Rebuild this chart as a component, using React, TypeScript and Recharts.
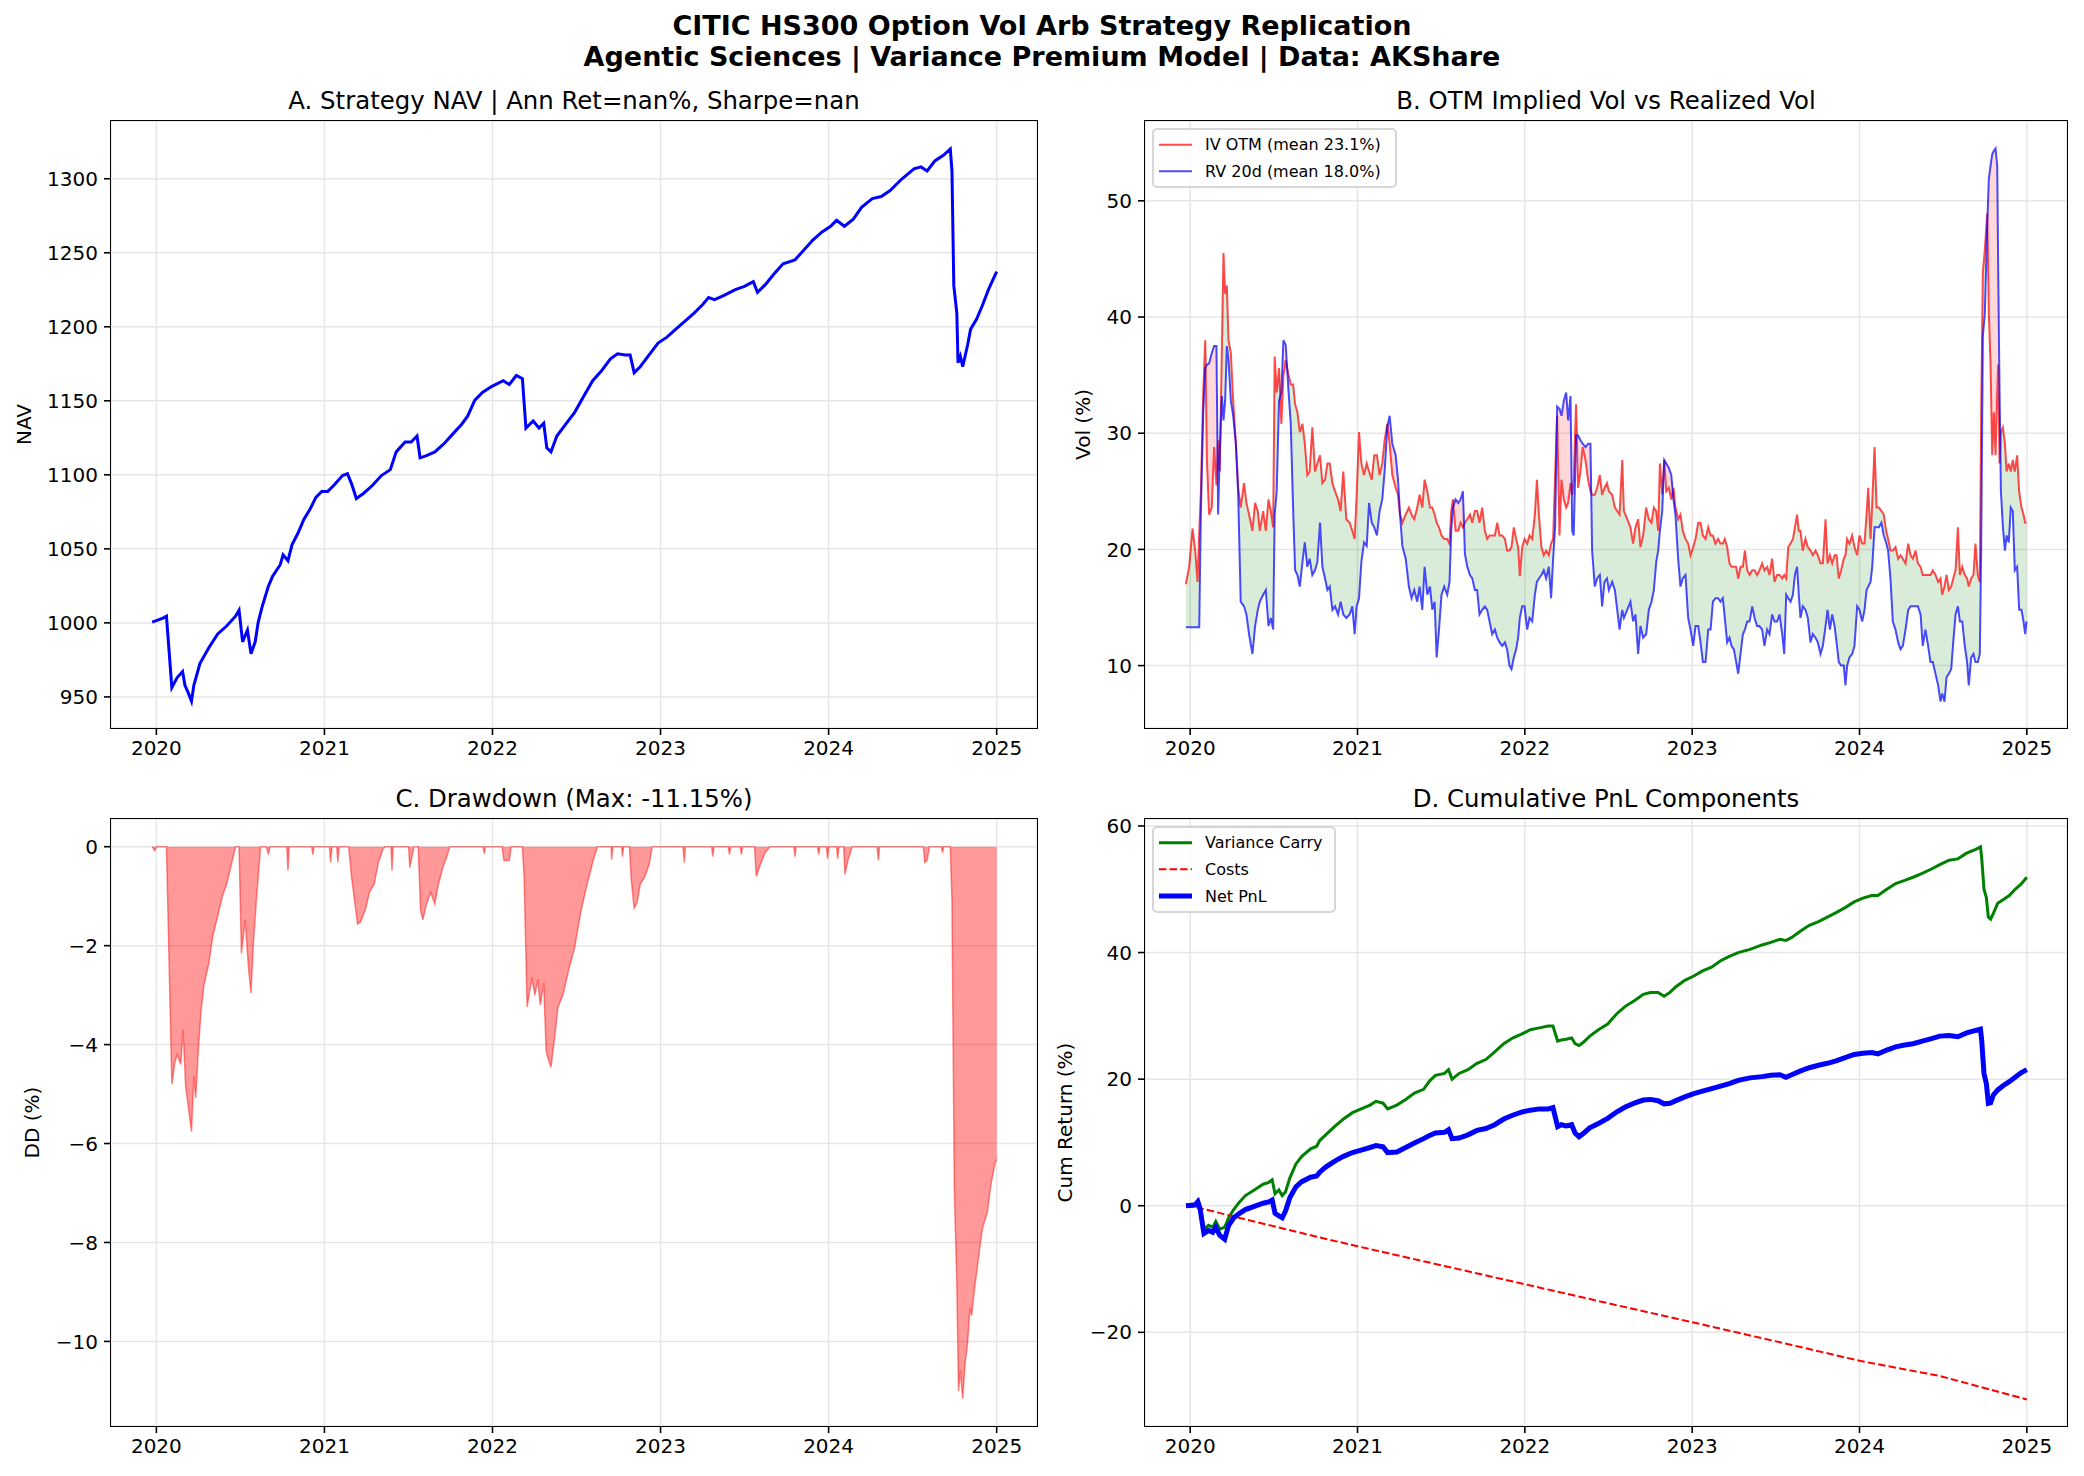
import React from 'react';
import { ComposedChart, Line, Area, XAxis, YAxis, CartesianGrid } from 'recharts';

const FONT = "'DejaVu Sans', sans-serif";
const X_DOMAIN: [number, number] = [2019.73, 2025.24];
const YEAR_TICKS = [2020, 2021, 2022, 2023, 2024, 2025];

// ---------- Panel A: strategy NAV ----------
const navDates = [2019.975, 2020.039, 2020.060, 2020.092, 2020.124, 2020.156, 2020.170, 2020.191, 2020.209, 2020.223, 2020.259, 2020.312, 2020.365, 2020.418, 2020.471, 2020.492, 2020.513, 2020.542, 2020.563, 2020.588, 2020.606, 2020.630, 2020.666, 2020.691, 2020.737, 2020.754, 2020.783, 2020.807, 2020.843, 2020.878, 2020.914, 2020.949, 2020.984, 2021.020, 2021.055, 2021.108, 2021.137, 2021.161, 2021.190, 2021.232, 2021.285, 2021.339, 2021.392, 2021.427, 2021.480, 2021.516, 2021.551, 2021.569, 2021.604, 2021.657, 2021.710, 2021.763, 2021.817, 2021.852, 2021.894, 2021.940, 2021.994, 2022.064, 2022.100, 2022.142, 2022.178, 2022.199, 2022.242, 2022.277, 2022.305, 2022.323, 2022.348, 2022.383, 2022.436, 2022.489, 2022.542, 2022.596, 2022.649, 2022.702, 2022.744, 2022.790, 2022.819, 2022.843, 2022.879, 2022.932, 2022.985, 2023.038, 2023.091, 2023.144, 2023.198, 2023.251, 2023.286, 2023.321, 2023.375, 2023.445, 2023.499, 2023.552, 2023.577, 2023.622, 2023.676, 2023.729, 2023.800, 2023.853, 2023.906, 2023.959, 2024.012, 2024.047, 2024.094, 2024.147, 2024.196, 2024.260, 2024.313, 2024.366, 2024.437, 2024.508, 2024.550, 2024.586, 2024.632, 2024.685, 2024.724, 2024.734, 2024.745, 2024.763, 2024.770, 2024.784, 2024.798, 2024.827, 2024.845, 2024.880, 2024.915, 2024.951, 2025.000];
const navValues = [1000.5, 1003.2, 1004.5, 956.4, 963.1, 967.1, 957.8, 952.4, 947.1, 957.8, 972.5, 983.2, 992.5, 997.9, 1004.5, 1008.6, 987.2, 995.2, 979.1, 987.2, 1000.5, 1011.2, 1024.6, 1031.3, 1039.3, 1046.0, 1042.0, 1052.7, 1060.7, 1070.1, 1076.7, 1084.8, 1088.8, 1088.8, 1092.8, 1099.5, 1100.8, 1094.1, 1084.0, 1087.4, 1092.8, 1099.5, 1103.5, 1115.5, 1122.2, 1122.2, 1126.2, 1111.5, 1112.8, 1115.5, 1120.9, 1127.5, 1134.2, 1139.6, 1150.3, 1155.6, 1159.6, 1163.6, 1161.0, 1167.1, 1165.0, 1131.6, 1136.4, 1131.6, 1134.8, 1118.2, 1115.5, 1126.2, 1134.2, 1142.2, 1152.9, 1163.6, 1170.3, 1178.3, 1181.8, 1181.0, 1181.0, 1169.0, 1173.0, 1181.0, 1189.0, 1193.0, 1198.4, 1203.7, 1209.1, 1215.0, 1219.8, 1218.4, 1221.1, 1225.1, 1227.3, 1230.5, 1223.3, 1228.3, 1235.8, 1242.5, 1245.2, 1251.9, 1258.6, 1263.9, 1267.9, 1271.9, 1267.9, 1272.7, 1280.7, 1286.6, 1288.0, 1292.0, 1300.0, 1306.7, 1308.0, 1305.3, 1312.0, 1316.0, 1320.1, 1305.3, 1227.8, 1209.1, 1175.7, 1180.2, 1173.0, 1187.7, 1198.4, 1205.1, 1214.4, 1225.1, 1237.2];
const navTicks = [950, 1000, 1050, 1100, 1150, 1200, 1250, 1300];

// ---------- Panel B: implied vs realized vol ----------
const volDates = [2019.974, 2019.994, 2020.014, 2020.030, 2020.044, 2020.054, 2020.064, 2020.078, 2020.090, 2020.100, 2020.113, 2020.129, 2020.143, 2020.157, 2020.167, 2020.177, 2020.189, 2020.199, 2020.209, 2020.219, 2020.229, 2020.243, 2020.257, 2020.273, 2020.287, 2020.302, 2020.322, 2020.336, 2020.352, 2020.372, 2020.388, 2020.404, 2020.416, 2020.436, 2020.452, 2020.468, 2020.482, 2020.496, 2020.505, 2020.517, 2020.531, 2020.545, 2020.557, 2020.571, 2020.585, 2020.601, 2020.615, 2020.627, 2020.641, 2020.655, 2020.671, 2020.685, 2020.700, 2020.714, 2020.730, 2020.746, 2020.760, 2020.776, 2020.790, 2020.806, 2020.820, 2020.834, 2020.850, 2020.866, 2020.884, 2020.899, 2020.915, 2020.933, 2020.953, 2020.969, 2020.983, 2020.995, 2021.009, 2021.023, 2021.039, 2021.055, 2021.069, 2021.085, 2021.100, 2021.116, 2021.132, 2021.148, 2021.162, 2021.178, 2021.192, 2021.208, 2021.228, 2021.242, 2021.254, 2021.268, 2021.288, 2021.307, 2021.323, 2021.339, 2021.357, 2021.371, 2021.387, 2021.401, 2021.417, 2021.433, 2021.447, 2021.461, 2021.473, 2021.487, 2021.502, 2021.518, 2021.536, 2021.550, 2021.560, 2021.570, 2021.586, 2021.602, 2021.616, 2021.630, 2021.642, 2021.656, 2021.672, 2021.686, 2021.701, 2021.715, 2021.729, 2021.745, 2021.761, 2021.775, 2021.789, 2021.805, 2021.821, 2021.835, 2021.849, 2021.865, 2021.881, 2021.894, 2021.908, 2021.920, 2021.934, 2021.948, 2021.960, 2021.970, 2021.984, 2021.998, 2022.014, 2022.028, 2022.044, 2022.060, 2022.072, 2022.084, 2022.099, 2022.113, 2022.127, 2022.143, 2022.157, 2022.169, 2022.181, 2022.193, 2022.207, 2022.219, 2022.233, 2022.247, 2022.259, 2022.273, 2022.283, 2022.292, 2022.306, 2022.318, 2022.332, 2022.346, 2022.362, 2022.378, 2022.392, 2022.402, 2022.418, 2022.432, 2022.448, 2022.462, 2022.476, 2022.491, 2022.502, 2022.522, 2022.538, 2022.552, 2022.566, 2022.582, 2022.592, 2022.612, 2022.631, 2022.647, 2022.661, 2022.677, 2022.691, 2022.707, 2022.725, 2022.741, 2022.757, 2022.771, 2022.785, 2022.797, 2022.807, 2022.821, 2022.833, 2022.845, 2022.861, 2022.875, 2022.888, 2022.900, 2022.916, 2022.930, 2022.944, 2022.960, 2022.976, 2022.990, 2023.006, 2023.020, 2023.036, 2023.050, 2023.064, 2023.080, 2023.096, 2023.110, 2023.124, 2023.139, 2023.155, 2023.169, 2023.183, 2023.195, 2023.209, 2023.223, 2023.235, 2023.249, 2023.263, 2023.275, 2023.289, 2023.303, 2023.315, 2023.329, 2023.343, 2023.359, 2023.373, 2023.388, 2023.402, 2023.418, 2023.432, 2023.448, 2023.462, 2023.478, 2023.492, 2023.508, 2023.522, 2023.538, 2023.550, 2023.562, 2023.574, 2023.588, 2023.602, 2023.614, 2023.627, 2023.637, 2023.647, 2023.661, 2023.677, 2023.691, 2023.707, 2023.721, 2023.737, 2023.751, 2023.767, 2023.781, 2023.797, 2023.809, 2023.823, 2023.837, 2023.851, 2023.863, 2023.876, 2023.890, 2023.906, 2023.916, 2023.926, 2023.940, 2023.956, 2023.970, 2023.986, 2024.000, 2024.016, 2024.030, 2024.042, 2024.052, 2024.066, 2024.076, 2024.090, 2024.102, 2024.116, 2024.131, 2024.145, 2024.159, 2024.171, 2024.185, 2024.199, 2024.215, 2024.231, 2024.245, 2024.259, 2024.275, 2024.291, 2024.305, 2024.319, 2024.335, 2024.349, 2024.365, 2024.378, 2024.394, 2024.410, 2024.424, 2024.438, 2024.454, 2024.470, 2024.484, 2024.494, 2024.508, 2024.520, 2024.534, 2024.548, 2024.560, 2024.574, 2024.588, 2024.600, 2024.614, 2024.629, 2024.643, 2024.653, 2024.667, 2024.681, 2024.693, 2024.707, 2024.719, 2024.727, 2024.737, 2024.749, 2024.763, 2024.773, 2024.783, 2024.793, 2024.803, 2024.813, 2024.823, 2024.829, 2024.837, 2024.845, 2024.857, 2024.869, 2024.879, 2024.892, 2024.904, 2024.916, 2024.928, 2024.942, 2024.954, 2024.968, 2024.980, 2024.990, 2024.998];
const ivValues = [17.0, 18.5, 21.8, 19.9, 17.2, 21.3, 25.0, 33.5, 38.0, 27.7, 23.0, 23.6, 28.8, 25.5, 29.4, 26.7, 36.9, 45.5, 42.0, 42.7, 38.0, 36.9, 32.8, 29.1, 25.3, 23.6, 25.7, 24.0, 23.0, 21.6, 24.0, 23.3, 21.6, 23.3, 21.6, 24.3, 23.3, 21.9, 36.6, 33.5, 35.6, 30.8, 34.9, 36.3, 35.2, 34.2, 34.2, 32.5, 31.8, 30.1, 30.8, 29.1, 26.4, 26.7, 30.5, 26.7, 27.4, 28.1, 25.7, 26.0, 27.4, 27.4, 25.7, 25.0, 24.3, 23.3, 26.7, 22.6, 22.3, 21.6, 20.9, 24.7, 30.1, 27.4, 26.4, 27.4, 26.7, 26.0, 28.1, 28.1, 26.4, 27.4, 29.4, 30.8, 29.1, 26.4, 25.3, 24.7, 23.0, 22.3, 23.0, 23.6, 23.0, 22.6, 23.6, 24.7, 23.6, 26.0, 25.0, 23.6, 23.6, 23.0, 22.3, 21.9, 21.2, 20.9, 20.9, 20.5, 23.3, 24.3, 21.6, 21.6, 22.3, 21.9, 22.3, 22.6, 23.0, 22.3, 23.3, 23.3, 22.3, 23.6, 21.6, 20.9, 21.2, 21.2, 21.2, 22.3, 21.2, 21.2, 20.9, 19.9, 19.9, 20.2, 21.9, 20.9, 20.2, 17.7, 20.2, 20.9, 20.5, 21.2, 20.9, 23.0, 26.0, 23.0, 20.2, 19.5, 19.9, 19.5, 20.5, 20.9, 26.4, 31.5, 21.2, 26.0, 24.3, 23.6, 24.0, 25.7, 24.7, 26.0, 32.5, 25.3, 26.7, 28.8, 27.7, 26.0, 25.0, 24.7, 24.7, 25.3, 26.4, 24.7, 25.3, 25.7, 25.0, 24.7, 23.6, 23.3, 23.0, 27.7, 23.3, 22.6, 21.9, 20.5, 21.9, 22.6, 20.2, 21.2, 23.6, 22.6, 22.3, 23.6, 23.3, 21.6, 27.4, 24.7, 27.7, 25.0, 25.3, 24.3, 25.3, 23.6, 22.6, 23.0, 21.6, 20.9, 20.5, 19.5, 20.2, 20.9, 22.3, 22.3, 21.2, 20.9, 21.9, 21.2, 21.2, 20.5, 20.9, 20.5, 20.5, 20.9, 20.2, 18.8, 18.5, 18.5, 18.5, 17.5, 18.5, 18.5, 19.9, 18.2, 17.8, 18.2, 18.2, 17.8, 18.2, 18.8, 18.2, 18.5, 17.8, 19.2, 17.2, 17.8, 17.8, 17.5, 17.8, 17.5, 20.2, 20.5, 20.9, 21.9, 23.0, 21.6, 21.6, 19.9, 20.9, 20.2, 19.9, 19.5, 19.9, 19.5, 18.8, 18.8, 22.6, 18.8, 19.5, 18.8, 19.5, 19.5, 17.5, 18.2, 19.2, 19.5, 20.9, 20.5, 21.2, 20.2, 19.5, 21.2, 20.5, 20.5, 23.0, 25.3, 20.9, 24.0, 28.8, 23.6, 23.6, 23.3, 23.0, 21.6, 20.9, 19.9, 19.9, 20.2, 19.2, 19.5, 19.2, 18.8, 20.5, 19.5, 19.2, 19.9, 18.8, 18.5, 17.8, 17.8, 17.8, 17.8, 18.2, 17.8, 17.2, 17.5, 16.1, 16.8, 17.8, 16.5, 16.8, 17.5, 18.2, 21.9, 17.8, 18.5, 17.8, 17.5, 16.8, 17.5, 17.8, 20.5, 17.8, 17.2, 31.5, 43.8, 45.8, 48.9, 40.3, 35.9, 28.1, 31.8, 28.1, 33.5, 35.9, 27.4, 30.1, 30.5, 29.1, 26.7, 27.4, 26.7, 27.7, 26.7, 28.1, 25.0, 23.6, 23.0, 22.3, 22.3];
const rvValues = [13.3, 13.3, 13.3, 13.3, 13.3, 13.3, 23.3, 31.8, 35.6, 35.9, 36.0, 36.9, 37.5, 37.5, 23.0, 28.4, 33.2, 31.1, 32.8, 37.5, 36.3, 32.8, 31.5, 29.1, 24.7, 15.5, 15.1, 14.4, 12.7, 11.0, 13.4, 14.8, 15.5, 16.1, 16.5, 13.4, 14.1, 13.1, 23.0, 25.0, 32.8, 33.5, 38.0, 37.6, 34.2, 30.8, 23.6, 18.2, 17.8, 16.8, 18.9, 20.6, 18.5, 19.2, 17.8, 18.2, 18.9, 22.3, 18.5, 17.5, 16.5, 16.8, 14.8, 15.1, 14.4, 15.5, 14.4, 14.1, 14.4, 15.1, 12.7, 15.1, 15.8, 18.9, 20.6, 20.3, 24.0, 22.3, 21.9, 21.2, 23.3, 24.3, 26.7, 30.5, 31.5, 29.1, 28.1, 26.0, 23.0, 20.3, 19.2, 16.8, 15.8, 16.5, 15.5, 16.8, 14.8, 18.5, 16.1, 16.8, 14.8, 15.5, 10.7, 13.1, 16.1, 16.8, 16.1, 17.2, 21.6, 23.6, 24.3, 24.0, 24.3, 25.0, 19.6, 18.5, 17.8, 17.5, 16.5, 16.5, 14.4, 14.8, 15.1, 14.8, 13.8, 12.7, 13.1, 12.4, 12.0, 11.7, 12.0, 11.4, 10.0, 9.7, 10.7, 11.4, 12.4, 14.1, 15.1, 15.1, 13.1, 14.1, 13.8, 16.1, 17.2, 17.5, 17.8, 18.2, 17.5, 18.5, 15.8, 19.2, 21.9, 32.3, 32.1, 31.5, 32.8, 33.5, 31.1, 33.2, 21.6, 21.2, 29.8, 29.8, 29.4, 29.1, 28.8, 29.1, 29.1, 19.9, 16.8, 17.5, 17.8, 15.1, 17.2, 17.5, 16.5, 17.2, 16.5, 14.8, 13.1, 14.8, 14.1, 14.8, 15.5, 13.8, 14.4, 11.0, 13.4, 12.4, 12.7, 14.8, 15.5, 16.5, 18.9, 19.9, 21.6, 23.3, 27.7, 27.4, 27.0, 26.4, 24.3, 23.0, 19.2, 16.8, 17.5, 17.8, 14.1, 13.1, 11.7, 13.4, 13.4, 12.0, 10.3, 10.3, 13.1, 13.1, 15.5, 15.8, 15.8, 15.5, 15.8, 14.1, 12.0, 12.4, 11.7, 11.4, 10.3, 9.3, 11.0, 12.7, 13.1, 13.8, 13.8, 15.1, 14.1, 13.4, 13.4, 13.1, 11.7, 13.1, 12.7, 14.4, 13.8, 13.8, 14.4, 12.7, 11.0, 16.1, 15.8, 15.5, 16.1, 17.8, 18.5, 16.1, 14.1, 15.1, 14.8, 14.1, 12.0, 12.7, 12.4, 12.0, 11.0, 11.7, 13.4, 14.8, 13.1, 14.4, 13.4, 12.0, 10.3, 10.0, 10.0, 8.3, 10.0, 10.7, 11.0, 11.7, 15.1, 14.8, 13.8, 14.8, 16.5, 16.8, 17.2, 18.5, 21.9, 21.9, 21.9, 22.3, 21.2, 20.6, 19.9, 17.5, 13.8, 13.1, 12.0, 11.4, 11.7, 13.1, 14.8, 15.1, 15.1, 15.1, 15.1, 14.4, 11.7, 13.1, 11.7, 10.3, 10.3, 9.3, 8.3, 6.9, 7.6, 6.9, 9.0, 9.3, 9.7, 12.0, 14.4, 15.1, 13.8, 13.8, 11.7, 10.3, 8.3, 10.7, 11.0, 10.3, 10.3, 11.0, 19.9, 38.3, 40.3, 47.9, 51.9, 53.0, 54.0, 54.3, 54.5, 53.0, 43.8, 33.5, 25.0, 21.9, 19.9, 21.2, 20.6, 23.6, 23.3, 18.2, 18.5, 14.8, 14.8, 13.8, 12.7, 13.8];
const volTicks = [10, 20, 30, 40, 50];

// ---------- Panel C: drawdown ----------
const ddDates = [2019.975, 2019.989, 2020.004, 2020.060, 2020.092, 2020.110, 2020.124, 2020.145, 2020.159, 2020.174, 2020.191, 2020.209, 2020.223, 2020.234, 2020.251, 2020.266, 2020.283, 2020.312, 2020.336, 2020.365, 2020.393, 2020.418, 2020.446, 2020.471, 2020.492, 2020.506, 2020.528, 2020.549, 2020.563, 2020.577, 2020.595, 2020.620, 2020.655, 2020.666, 2020.677, 2020.776, 2020.783, 2020.790, 2020.924, 2020.931, 2020.938, 2021.030, 2021.037, 2021.045, 2021.073, 2021.080, 2021.087, 2021.144, 2021.161, 2021.179, 2021.197, 2021.215, 2021.243, 2021.268, 2021.296, 2021.321, 2021.349, 2021.363, 2021.396, 2021.402, 2021.409, 2021.501, 2021.508, 2021.533, 2021.558, 2021.572, 2021.586, 2021.604, 2021.632, 2021.657, 2021.675, 2021.703, 2021.728, 2021.746, 2021.944, 2021.951, 2021.958, 2022.057, 2022.068, 2022.100, 2022.111, 2022.178, 2022.188, 2022.206, 2022.234, 2022.252, 2022.270, 2022.284, 2022.305, 2022.319, 2022.334, 2022.348, 2022.369, 2022.390, 2022.419, 2022.454, 2022.489, 2022.525, 2022.560, 2022.596, 2022.624, 2022.706, 2022.709, 2022.716, 2022.769, 2022.773, 2022.780, 2022.815, 2022.826, 2022.843, 2022.861, 2022.879, 2022.907, 2022.932, 2022.950, 2023.134, 2023.141, 2023.148, 2023.304, 2023.311, 2023.318, 2023.403, 2023.410, 2023.417, 2023.474, 2023.481, 2023.488, 2023.559, 2023.570, 2023.594, 2023.622, 2023.651, 2023.793, 2023.800, 2023.807, 2023.934, 2023.941, 2023.948, 2023.987, 2023.994, 2024.001, 2024.047, 2024.054, 2024.061, 2024.090, 2024.097, 2024.115, 2024.140, 2024.289, 2024.296, 2024.303, 2024.564, 2024.572, 2024.586, 2024.600, 2024.671, 2024.678, 2024.685, 2024.724, 2024.734, 2024.748, 2024.763, 2024.773, 2024.784, 2024.798, 2024.812, 2024.827, 2024.841, 2024.851, 2024.869, 2024.887, 2024.915, 2024.944, 2024.965, 2024.990, 2025.000];
const ddValues = [0, -0.08, 0, 0, -4.80, -4.36, -4.20, -4.40, -3.70, -4.84, -5.28, -5.76, -4.64, -5.08, -4.04, -3.32, -2.80, -2.36, -1.80, -1.40, -1.00, -0.76, -0.36, 0, 0, -2.16, -1.48, -2.48, -2.96, -1.96, -1.08, 0, 0, -0.16, 0, 0, -0.48, 0, 0, -0.16, 0, 0, -0.32, 0, 0, -0.32, 0, 0, -0.60, -1.08, -1.56, -1.52, -1.28, -0.92, -0.76, -0.32, -0.04, 0, 0, -0.48, 0, 0, -0.42, 0, 0, -1.28, -1.48, -1.20, -0.92, -1.16, -0.80, -0.44, -0.20, 0, 0, -0.14, 0, 0, -0.28, -0.28, 0, 0, -0.60, -3.24, -2.64, -3.00, -2.68, -3.20, -2.76, -4.12, -4.32, -4.46, -3.88, -3.24, -3.00, -2.48, -2.04, -1.32, -0.80, -0.32, 0, 0, -0.26, 0, 0, -0.20, 0, 0, -0.68, -1.24, -1.12, -0.76, -0.60, -0.36, 0, 0, -0.32, 0, 0, -0.20, 0, 0, -0.16, 0, 0, -0.16, 0, 0, -0.60, -0.36, -0.12, 0, 0, -0.20, 0, 0, -0.16, 0, 0, -0.24, 0, 0, -0.24, 0, 0, -0.56, -0.28, 0, 0, -0.28, 0, 0, -0.32, -0.28, 0, 0, -0.12, 0, 0, -1.08, -6.92, -8.84, -11.00, -10.60, -11.16, -10.44, -10.04, -9.32, -9.48, -8.92, -8.44, -7.72, -7.40, -6.84, -6.40, -6.32];
const ddTicks = [-10, -8, -6, -4, -2, 0];

// ---------- Panel D: cumulative PnL components ----------
const pnlDates = [2019.975, 2020.028, 2020.046, 2020.060, 2020.082, 2020.110, 2020.135, 2020.153, 2020.177, 2020.206, 2020.230, 2020.260, 2020.295, 2020.330, 2020.383, 2020.436, 2020.470, 2020.490, 2020.507, 2020.530, 2020.550, 2020.570, 2020.596, 2020.632, 2020.667, 2020.720, 2020.756, 2020.774, 2020.810, 2020.862, 2020.916, 2020.970, 2021.022, 2021.075, 2021.110, 2021.153, 2021.180, 2021.235, 2021.288, 2021.340, 2021.395, 2021.430, 2021.466, 2021.520, 2021.544, 2021.565, 2021.607, 2021.660, 2021.714, 2021.767, 2021.820, 2021.874, 2021.927, 2021.980, 2022.033, 2022.087, 2022.140, 2022.168, 2022.196, 2022.218, 2022.246, 2022.280, 2022.300, 2022.324, 2022.353, 2022.388, 2022.440, 2022.495, 2022.548, 2022.600, 2022.654, 2022.708, 2022.750, 2022.796, 2022.832, 2022.867, 2022.903, 2022.956, 2023.010, 2023.062, 2023.116, 2023.170, 2023.222, 2023.275, 2023.346, 2023.417, 2023.470, 2023.524, 2023.560, 2023.595, 2023.648, 2023.700, 2023.755, 2023.808, 2023.860, 2023.914, 2023.968, 2024.020, 2024.074, 2024.110, 2024.163, 2024.216, 2024.270, 2024.320, 2024.375, 2024.430, 2024.480, 2024.535, 2024.588, 2024.640, 2024.695, 2024.723, 2024.730, 2024.744, 2024.758, 2024.770, 2024.784, 2024.800, 2024.826, 2024.860, 2024.895, 2024.930, 2024.965, 2025.000];
const carryValues = [0, 0.3, 0.9, 0, -3.7, -3.1, -3.4, -2.5, -3.7, -3.4, -1.9, -0.6, 0.6, 1.6, 2.5, 3.4, 3.7, 4.1, 1.9, 2.5, 1.6, 2.2, 4.4, 6.6, 7.8, 9.0, 9.4, 10.3, 11.2, 12.5, 13.7, 14.7, 15.3, 15.9, 16.5, 16.2, 15.3, 15.9, 16.8, 17.8, 18.4, 19.7, 20.6, 20.9, 21.5, 20.0, 20.9, 21.5, 22.5, 23.1, 24.3, 25.6, 26.5, 27.1, 27.8, 28.1, 28.4, 28.4, 26.0, 26.2, 26.3, 26.5, 25.6, 25.3, 25.9, 26.8, 27.8, 28.7, 30.3, 31.5, 32.4, 33.4, 33.7, 33.7, 33.1, 33.7, 34.6, 35.6, 36.3, 37.1, 37.7, 38.7, 39.4, 40.0, 40.5, 41.2, 41.6, 42.1, 41.9, 42.4, 43.4, 44.3, 44.9, 45.6, 46.3, 47.1, 48.0, 48.6, 49.0, 49.0, 50.0, 50.9, 51.4, 51.9, 52.5, 53.2, 53.9, 54.6, 54.8, 55.7, 56.3, 56.7, 55.0, 50.0, 48.7, 45.6, 45.3, 46.2, 47.8, 48.4, 49.0, 50.0, 50.8, 51.9];
const netValues = [0, 0.1, 0.6, -0.6, -4.4, -3.9, -4.2, -3.4, -4.7, -5.3, -3.1, -1.9, -1.2, -0.6, -0.1, 0.4, 0.6, 0.9, -1.2, -1.6, -1.9, -0.8, 1.3, 3.0, 3.8, 4.5, 4.7, 5.3, 6.1, 7.0, 7.8, 8.4, 8.8, 9.2, 9.5, 9.3, 8.4, 8.5, 9.2, 9.9, 10.6, 11.1, 11.5, 11.6, 12.0, 10.6, 10.7, 11.2, 11.9, 12.2, 12.8, 13.7, 14.3, 14.8, 15.1, 15.3, 15.3, 15.5, 12.5, 12.8, 12.6, 12.8, 11.5, 10.9, 11.5, 12.3, 13.0, 13.8, 14.8, 15.6, 16.2, 16.7, 16.8, 16.6, 16.1, 16.2, 16.6, 17.2, 17.7, 18.1, 18.5, 18.9, 19.3, 19.8, 20.2, 20.4, 20.6, 20.7, 20.3, 20.7, 21.3, 21.8, 22.2, 22.5, 22.9, 23.4, 23.9, 24.1, 24.2, 24.0, 24.6, 25.1, 25.4, 25.6, 26.0, 26.4, 26.8, 26.9, 26.7, 27.3, 27.7, 27.9, 26.2, 20.9, 19.3, 16.2, 16.3, 17.5, 18.3, 19.0, 19.6, 20.3, 21.0, 21.5];
const costDates = [2019.975, 2020.046, 2020.400, 2020.756, 2021.000, 2021.466, 2022.000, 2022.530, 2023.000, 2023.595, 2024.000, 2024.480, 2025.000];
const costValues = [0, -0.3, -2.6, -4.9, -6.4, -9.2, -12.4, -15.6, -18.4, -22.0, -24.5, -26.9, -30.6];
const pnlTicks = [-20, 0, 20, 40, 60];

// ---------- text ----------
const superTitle = ['CITIC HS300 Option Vol Arb Strategy Replication', 'Agentic Sciences | Variance Premium Model | Data: AKShare'];
const panelTitles = ['A. Strategy NAV | Ann Ret=nan%, Sharpe=nan', 'B. OTM Implied Vol vs Realized Vol', 'C. Drawdown (Max: -11.15%)', 'D. Cumulative PnL Components'];
const yLabels = ['NAV', 'Vol (%)', 'DD (%)', 'Cum Return (%)'];
const volLegend = ['IV OTM (mean 23.1%)', 'RV 20d (mean 18.0%)'];
const pnlLegend = ['Variance Carry', 'Costs', 'Net PnL'];

// ---------- rows built for the library ----------
const navRows = navDates.map((t, i) => ({ t, nav: navValues[i] }));
const volRows = volDates.map((t, i) => {
  const iv = ivValues[i];
  const rv = rvValues[i];
  const hi = Math.max(iv, rv);
  return { t, iv, rv, green: [rv, hi], red: [iv, hi] };
});
const ddRows = ddDates.map((t, i) => ({ t, dd: ddValues[i] }));
const pnlRows = pnlDates.map((t, i) => ({ t, carry: carryValues[i], net: netValues[i] }));
const costRows = costDates.map((t, i) => ({ t, cost: costValues[i] }));

const fmt = (v: number) => (v < 0 ? '\u2212' + Math.abs(v) : String(v));

const PLOTS = {
  A: { x: 111, y: 121, w: 926, h: 607 },
  B: { x: 1145, y: 121, w: 922, h: 607 },
  C: { x: 111, y: 819, w: 926, h: 607 },
  D: { x: 1145, y: 819, w: 922, h: 607 },
};

const tickStyle = { fill: '#000', fontSize: 20, fontFamily: FONT };
const tickLine = { stroke: '#000', strokeWidth: 1.6 };

function axes(yDomain: [number, number], yTicks: number[]) {
  return [
    <CartesianGrid key="g" stroke="#e6e6e6" strokeWidth={1.5} />,
    <XAxis key="x" dataKey="t" type="number" domain={X_DOMAIN} ticks={YEAR_TICKS} allowDataOverflow interval={0}
      height={50} tickSize={7} tickMargin={6} axisLine={false} tickLine={tickLine} tick={tickStyle}
      tickFormatter={(v: number) => String(v)} />,
    <YAxis key="y" type="number" domain={yDomain} ticks={yTicks} allowDataOverflow interval={0}
      width={100} tickSize={7} tickMargin={6} axisLine={false} tickLine={tickLine} tick={tickStyle}
      tickFormatter={fmt} />,
  ];
}

function Frame({ p }: { p: { x: number; y: number; w: number; h: number } }) {
  return (
    <div style={{ position: 'absolute', left: p.x - 0.8, top: p.y - 0.8, width: p.w + 1.6, height: p.h + 1.6,
      border: '1.6px solid #000', boxSizing: 'border-box', pointerEvents: 'none' }} />
  );
}

function chartBox(p: { x: number; y: number }) {
  return { position: 'absolute' as const, left: p.x - 100, top: p.y - 10 };
}
const M = { top: 10, right: 10, bottom: 0, left: 0 };

export default function App() {
  const A = PLOTS.A, B = PLOTS.B, C = PLOTS.C, D = PLOTS.D;
  return (
    <div style={{ position: 'absolute', left: 0, top: 0, width: 2084, height: 1476, background: '#fff', overflow: 'hidden', fontFamily: FONT }}>
      <div style={chartBox(A)}>
        <ComposedChart width={A.w + 110} height={A.h + 60} data={navRows} margin={M}>
          {axes([929, 1339], navTicks)}
          <Line dataKey="nav" type="linear" stroke="#0000ff" strokeWidth={3} dot={false} activeDot={false} isAnimationActive={false} />
        </ComposedChart>
      </div>
      <div style={chartBox(B)}>
        <ComposedChart width={B.w + 110} height={B.h + 60} data={volRows} margin={M}>
          {axes([4.63, 56.87], volTicks)}
          <Area dataKey="green" type="linear" stroke="none" fill="#008000" fillOpacity={0.15} dot={false} activeDot={false} isAnimationActive={false} />
          <Area dataKey="red" type="linear" stroke="none" fill="#ff0000" fillOpacity={0.15} dot={false} activeDot={false} isAnimationActive={false} />
          <Line dataKey="iv" type="linear" stroke="#ff0000" strokeOpacity={0.7} strokeWidth={2} dot={false} activeDot={false} isAnimationActive={false} />
          <Line dataKey="rv" type="linear" stroke="#0000ff" strokeOpacity={0.7} strokeWidth={2} dot={false} activeDot={false} isAnimationActive={false} />
        </ComposedChart>
      </div>
      <div style={chartBox(C)}>
        <ComposedChart width={C.w + 110} height={C.h + 60} data={ddRows} margin={M}>
          {axes([-11.71, 0.56], ddTicks)}
          <Area dataKey="dd" type="linear" baseValue={0} stroke="#ff0000" strokeOpacity={0.45} strokeWidth={1.5} fill="#ff0000" fillOpacity={0.4} dot={false} activeDot={false} isAnimationActive={false} />
        </ComposedChart>
      </div>
      <div style={chartBox(D)}>
        <ComposedChart width={D.w + 110} height={D.h + 60} data={pnlRows} margin={M}>
          {axes([-34.8, 61.1], pnlTicks)}
          <Line dataKey="carry" type="linear" stroke="#008000" strokeWidth={3} dot={false} activeDot={false} isAnimationActive={false} />
          <Line data={costRows} dataKey="cost" type="linear" stroke="#ff0000" strokeWidth={2} strokeDasharray="7.4 3.2" dot={false} activeDot={false} isAnimationActive={false} />
          <Line dataKey="net" type="linear" stroke="#0000ff" strokeWidth={5} dot={false} activeDot={false} isAnimationActive={false} />
        </ComposedChart>
      </div>
      <Frame p={A} />
      <Frame p={B} />
      <Frame p={C} />
      <Frame p={D} />
      <svg width={2084} height={1476} style={{ position: 'absolute', left: 0, top: 0, pointerEvents: 'none' }} fontFamily={FONT}>
        <text x={1042} y={35} textAnchor="middle" fontSize={27} fontWeight="bold" fill="#000">{superTitle[0]}</text>
        <text x={1042} y={66} textAnchor="middle" fontSize={27} fontWeight="bold" fill="#000">{superTitle[1]}</text>
        <text x={A.x + A.w / 2} y={A.y - 12} textAnchor="middle" fontSize={24.4} fill="#000">{panelTitles[0]}</text>
        <text x={B.x + B.w / 2} y={B.y - 12} textAnchor="middle" fontSize={24.4} fill="#000">{panelTitles[1]}</text>
        <text x={C.x + C.w / 2} y={C.y - 12} textAnchor="middle" fontSize={24.4} fill="#000">{panelTitles[2]}</text>
        <text x={D.x + D.w / 2} y={D.y - 12} textAnchor="middle" fontSize={24.4} fill="#000">{panelTitles[3]}</text>
        <text x={31} y={A.y + A.h / 2} textAnchor="middle" fontSize={20} fill="#000" transform={`rotate(-90 31 ${A.y + A.h / 2})`}>{yLabels[0]}</text>
        <text x={1090} y={B.y + B.h / 2} textAnchor="middle" fontSize={20} fill="#000" transform={`rotate(-90 1090 ${B.y + B.h / 2})`}>{yLabels[1]}</text>
        <text x={39} y={C.y + C.h / 2} textAnchor="middle" fontSize={20} fill="#000" transform={`rotate(-90 39 ${C.y + C.h / 2})`}>{yLabels[2]}</text>
        <text x={1072} y={D.y + D.h / 2} textAnchor="middle" fontSize={20} fill="#000" transform={`rotate(-90 1072 ${D.y + D.h / 2})`}>{yLabels[3]}</text>

        <rect x={1153} y={129} width={243} height={58} rx={4} fill="#fff" fillOpacity={0.8} stroke="#cccccc" strokeOpacity={0.8} strokeWidth={2} />
        <line x1={1159} x2={1192} y1={144.7} y2={144.7} stroke="#ff0000" strokeOpacity={0.7} strokeWidth={2} />
        <text x={1205} y={150.3} fontSize={16} fill="#000">{volLegend[0]}</text>
        <line x1={1159} x2={1192} y1={171.3} y2={171.3} stroke="#0000ff" strokeOpacity={0.7} strokeWidth={2} />
        <text x={1205} y={176.9} fontSize={16} fill="#000">{volLegend[1]}</text>

        <rect x={1153} y={827} width={182} height={85} rx={4} fill="#fff" fillOpacity={0.8} stroke="#cccccc" strokeOpacity={0.8} strokeWidth={2} />
        <line x1={1159} x2={1192} y1={842.7} y2={842.7} stroke="#008000" strokeWidth={3} />
        <text x={1205} y={848.3} fontSize={16} fill="#000">{pnlLegend[0]}</text>
        <line x1={1159} x2={1192} y1={869.3} y2={869.3} stroke="#ff0000" strokeWidth={2} strokeDasharray="7.4 3.2" />
        <text x={1205} y={874.9} fontSize={16} fill="#000">{pnlLegend[1]}</text>
        <line x1={1159} x2={1192} y1={895.9} y2={895.9} stroke="#0000ff" strokeWidth={5} />
        <text x={1205} y={901.5} fontSize={16} fill="#000">{pnlLegend[2]}</text>
      </svg>
    </div>
  );
}
